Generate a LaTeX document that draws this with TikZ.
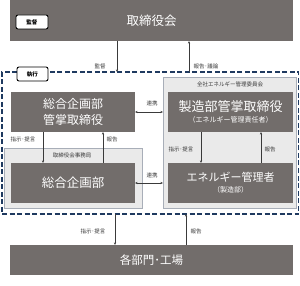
\documentclass[tikz,border=0pt]{standalone}
\usepackage{fontspec}
\setmainfont{Noto Sans CJK JP}
\usetikzlibrary{arrows.meta,calc}
\definecolor{dg}{HTML}{726D6B}
\definecolor{lg}{HTML}{EAEAEA}
\definecolor{lgb}{HTML}{A8AEB8}
\definecolor{navy}{HTML}{1F3A60}
\definecolor{ln}{HTML}{3A3A3A}
\tikzset{
 darkbox/.style={fill=dg, draw=none, text=white, inner sep=0pt, outer sep=0pt, align=center},
 lightbox/.style={fill=lg, draw=lgb, line width=0.6pt, inner sep=0pt, outer sep=0pt},
 tagbox/.style={fill=white, draw=black, line width=0.9pt, rounded corners=2pt, inner sep=0pt, font=\fontsize{5.5}{6}\selectfont\bfseries},
 lab/.style={font=\fontsize{5.5}{6}\selectfont, text=ln, inner sep=0pt},
 arr/.style={draw=ln, line width=0.5pt, -{Stealth[length=2.6pt,width=2.2pt]}},
 darr/.style={draw=ln, line width=0.5pt, {Stealth[length=2.6pt,width=2.2pt]}-{Stealth[length=2.6pt,width=2.2pt]}},
}
\begin{document}
\begin{tikzpicture}[x=1pt,y=-1pt]
\useasboundingbox (0,0) rectangle (300,286);
% coordinates for vertical connectors
\coordinate (c117) at (117,0);
\coordinate (c189) at (189,0);
\coordinate (c43) at (43,0);
\coordinate (c103) at (103,0);
\coordinate (c201) at (201,0);
\coordinate (c261) at (261,0);
\coordinate (c115) at (115,0);
\coordinate (c186) at (186,0);
% board
\node[darkbox, minimum width=283pt, minimum height=41pt, font=\fontsize{12.5}{14}\selectfont] (board) at (151.5,20.5) {取締役会};
\node[tagbox, minimum width=32pt, minimum height=14pt] (kantag) at (32,22) {監督};
% execution area
\node[draw=navy, line width=1.2pt, dash pattern=on 5pt off 2.5pt, minimum width=296.5pt, minimum height=142pt, inner sep=0pt, outer sep=0pt] (exec) at (150.25,143) {};
\node[tagbox, minimum width=31pt, minimum height=14pt] (exectag) at (32.5,74) {執行};
% secretariat container
\node[lightbox, minimum width=138pt, minimum height=60pt] (sec) at (73,178) {};
\node[lab] (seclab) at (72,155) {取締役会事務局};
% committee container
\node[lightbox, minimum width=133pt, minimum height=131pt] (com) at (229.5,142.5) {};
\node[lab] (comlab) at (230,84) {全社エネルギー管理委員会};
% boxes
\node[darkbox, minimum width=124pt, minimum height=40pt, font=\fontsize{12}{16}\selectfont] (gm) at (73,112) {総合企画部\\管掌取締役};
\node[darkbox, minimum width=124pt, minimum height=40pt, font=\fontsize{12.5}{14}\selectfont] (gp) at (73,183) {総合企画部};
\node[darkbox, minimum width=125pt, minimum height=40pt] (md) at (230.5,112) {{\fontsize{13}{13}\selectfont 製造部管掌取締役}\\[-1pt]{\fontsize{7}{8}\selectfont （エネルギー管理責任者）}};
\node[darkbox, minimum width=125pt, minimum height=40pt] (em) at (230.5,183) {{\fontsize{11}{12}\selectfont エネルギー管理者}\\[-1pt]{\fontsize{7}{8}\selectfont （製造部）}};
\node[darkbox, minimum width=283pt, minimum height=30pt, font=\fontsize{11.5}{13}\selectfont] (dept) at (151.5,260) {各部門･工場};
% connectors top
\draw[arr] (board.south -| c117) -- (exec.north -| c117);
\node[lab] (l1) at (100,66.7) {監督};
\draw[arr] (exec.north -| c189) -- (board.south -| c189);
\node[lab] (l2) at (206,66.7) {報告･議論};
% liaison
\draw[darr] (gm.east) -- (gm.east -| com.west);
\node[lab] (l3) at (152,103) {連携};
\draw[darr] (gp.east) -- (gp.east -| com.west);
\node[lab] (l4) at (152,175) {連携};
% left vertical
\draw[arr] (gm.south -| c43) -- (gp.north -| c43);
\node[lab] (l5) at (23,139) {指示･提言};
\draw[arr] (gp.north -| c103) -- (gm.south -| c103);
\node[lab] (l6) at (112,139) {報告};
% right vertical
\draw[arr] (md.south -| c201) -- (em.north -| c201);
\node[lab] (l7) at (181,149) {指示･提言};
\draw[arr] (em.north -| c261) -- (md.south -| c261);
\node[lab] (l8) at (270,149) {報告};
% bottom
\draw[arr] (exec.south -| c115) -- (dept.north -| c115);
\node[lab] (l9) at (93,231) {指示･提言};
\draw[arr] (dept.north -| c186) -- (exec.south -| c186);
\node[lab] (l10) at (196,231) {報告};
\end{tikzpicture}
\end{document}
